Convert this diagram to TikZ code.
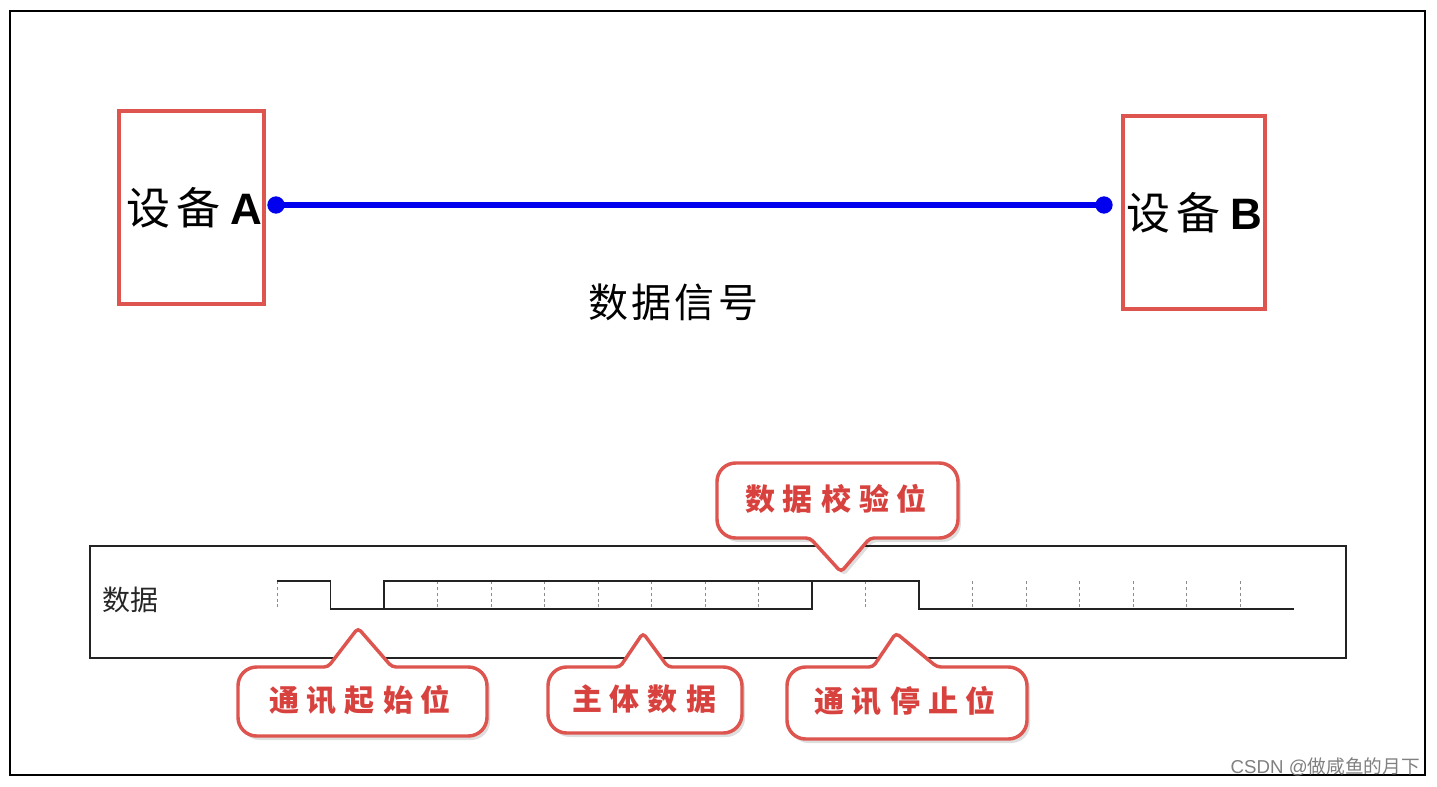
\documentclass[tikz,border=0pt]{standalone}
\usepackage{fontspec}
\setmainfont{Liberation Sans}
\newfontfamily\cjk{Noto Sans CJK SC}
\usetikzlibrary{calc}
\definecolor{boxred}{RGB}{222,84,78}
\definecolor{txtred}{RGB}{215,66,62}
\definecolor{lineblue}{RGB}{0,0,238}
\definecolor{sigdark}{RGB}{35,35,35}
\newcommand\cpUp[8]{(#7,#8) [rounded corners=3] -- (#6,#2) [rounded corners=14] -- (#3,#2) -- (#3,#4) -- (#1,#4) -- (#1,#2) [rounded corners=3] -- (#5,#2) -- cycle}
\newcommand\cpDown[8]{(#7,#8) [rounded corners=3] -- (#5,#4) [rounded corners=14] -- (#1,#4) -- (#1,#2) -- (#3,#2) -- (#3,#4) [rounded corners=3] -- (#6,#4) -- cycle}
\begin{document}
\begin{tikzpicture}[x=0.75pt,y=-0.75pt,
  devbox/.style={draw=boxred,line width=2.6pt,inner sep=0pt,fill=white,
    font=\fontsize{33}{36}\selectfont},
  calloutline/.style={draw=boxred,line width=2.6pt,fill=white},
  calloutshadow/.style={fill=black,opacity=0.13},
  callouttext/.style={text=txtred,inner sep=0pt,font=\cjk\bfseries\fontsize{22.5}{26}\selectfont},
  sig/.style={draw=sigdark,line width=1.1pt,line join=miter},
  tick/.style={draw=black!45,line width=0.6pt,dash pattern=on 2.2pt off 2.2pt},
  dot/.style={circle,fill=lineblue,inner sep=0pt,minimum size=13pt}
]
\fill[white] (0,0) rectangle (1437,786);
\useasboundingbox (0,0) rectangle (1437,786);
\draw[black,line width=1.8pt] (10,11) rectangle (1425,775);

% devices
\node[devbox,minimum width=108.5pt,minimum height=144.5pt] (A) at (191.5,207.5)
  {\hspace{4pt}\cjk 设\hspace{5pt}备\hspace{7pt}\normalfont\bfseries A};
\node[devbox,minimum width=106.5pt,minimum height=144.5pt] (B) at (1194,212.5)
  {\cjk 设\hspace{5pt}备\hspace{7pt}\normalfont\bfseries B};
\coordinate (pa) at (276,205);
\coordinate (pb) at (1104,205);
\draw[lineblue,line width=5pt] (pa) -- (pb);
\node[dot] (da) at (pa) {};
\node[dot] (db) at (pb) {};
\node[font=\cjk\fontsize{30}{34}\selectfont,inner sep=0pt] (sigl) at (673,302)
  {数\hspace{2.5pt}据\hspace{2.5pt}信\hspace{2.5pt}号};

% lower frame
\draw[sigdark,line width=1.1pt] (90,546) rectangle (1346,658);
\node[font=\cjk\fontsize{21}{24}\selectfont,text=black!85,inner sep=0pt] (dl) at (130,600) {数据};

% ticks
\foreach \i in {0,3,4,5,6,7,8,9,11,13,14,15,16,17,18}
  \draw[tick] ({277+53.5*\i},581) -- ({277+53.5*\i},609);
% signal
\draw[sig] (277,581) -- (330.5,581) -- (330.5,609) -- (812,609) -- (812,581);
\draw[sig] (384,609) -- (384,581) -- (919,581) -- (919,609) -- (1293.5,609);

% callouts: shadows
\begin{scope}[shift={(3,4)}]
\fill[calloutshadow] \cpUp{238}{667}{487}{736}{328}{392}{358}{628};
\fill[calloutshadow] \cpUp{548}{667}{742}{733}{620}{668}{643}{633};
\fill[calloutshadow] \cpUp{787}{667}{1027}{739}{873}{937}{896}{633};
\fill[calloutshadow] \cpDown{717}{463}{958}{538}{810}{870}{841}{572};
\end{scope}
\draw[calloutline] \cpUp{238}{667}{487}{736}{328}{392}{358}{628};
\draw[calloutline] \cpUp{548}{667}{742}{733}{620}{668}{643}{633};
\draw[calloutline] \cpUp{787}{667}{1027}{739}{873}{937}{896}{633};
\draw[calloutline] \cpDown{717}{463}{958}{538}{810}{870}{841}{572};
\node[callouttext] (c1) at (360,700) {通\hspace{6pt}讯\hspace{6pt}起\hspace{6pt}始\hspace{6pt}位};
\node[callouttext] (c2) at (644,699) {主\hspace{6pt}体\hspace{6pt}数\hspace{6pt}据};
\node[callouttext] (c3) at (905,701) {通\hspace{6pt}讯\hspace{6pt}停\hspace{6pt}止\hspace{6pt}位};
\node[callouttext] (c4) at (836,499) {数\hspace{6pt}据\hspace{6pt}校\hspace{6pt}验\hspace{6pt}位};

% watermark
\node[anchor=base east,inner sep=0pt,text=black!50,font=\fontsize{14}{16}\selectfont] (wm) at (1420,773)
  {CSDN @{\cjk 做咸鱼的月下}};
\end{tikzpicture}
\end{document}
